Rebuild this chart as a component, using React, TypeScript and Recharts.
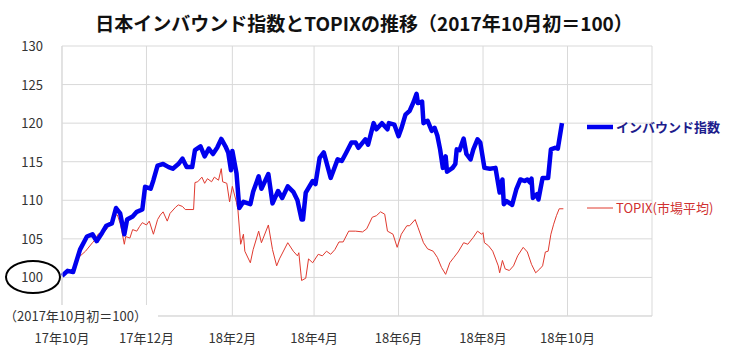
import React from "react";
import { LineChart, Line, XAxis, YAxis, CartesianGrid } from "recharts";

// days counted from 2017-10-01
const xTicks = [0, 61, 123, 182, 243, 304, 365, 426];
const xTickLabels = ["17年10月", "17年12月", "18年2月", "18年4月", "18年6月", "18年8月", "18年10月", ""];
const yTicks = [95, 100, 105, 110, 115, 120, 125, 130];

const inboundDays = [
  0, 4, 8, 13, 18, 22, 25, 29, 32, 36, 39, 42, 45, 47, 51, 54, 58, 60, 64, 66, 69, 73, 77, 80, 84, 87,
  90, 94, 96, 100, 103, 106, 109, 112, 115, 118, 120, 122, 123, 126, 128, 131, 136, 138, 142, 144, 149,
  152, 156, 159, 163, 167, 170, 173, 174, 176, 181, 183, 186, 189, 194, 199, 202, 205, 209, 212, 214,
  219, 221, 225, 227, 231, 235, 236, 240, 243, 245, 248, 251, 254, 256, 257, 260, 261, 264, 267, 269,
  271, 273, 275, 277, 278, 282, 284, 285, 287, 290, 292, 295, 297, 300, 302, 305, 309, 313, 316, 318,
  319, 321, 325, 328, 331, 334, 336, 338, 339, 340, 343, 344, 347, 351, 353, 356, 358, 361,
];
const inboundValues = [
  100.2, 100.85, 100.7, 103.6, 105.3, 105.6, 104.7, 105.8, 106.7, 107, 109, 108.3, 105.6, 107.5, 107.9,
  108.5, 108.8, 111.75, 111.5, 112.6, 114.5, 114.7, 114.3, 114.1, 114.7, 115.4, 114.3, 114.3, 116.5, 117,
  115.7, 116.7, 116, 116.8, 117.95, 117, 116.2, 113.9, 116.4, 113.5, 109, 109.8, 109.5, 111.1, 113.1,
  111.5, 113.4, 109.6, 111.2, 110.3, 111.8, 111.1, 110, 107.5, 107.5, 111, 112.5, 112.1, 115.5, 116.2,
  112.9, 115.3, 115.1, 116.1, 117.5, 117.5, 116.8, 117.9, 117.2, 120, 119.2, 120, 119.2, 120, 119.8,
  118.3, 119.3, 121.1, 121.6, 122.8, 123.8, 122.6, 122.8, 120, 120.3, 119, 119.4, 118.4, 116.6, 114.2,
  115.7, 113.7, 114.2, 114.7, 116.6, 116.5, 118, 116, 115.3, 116.6, 117.9, 117.5, 114.2, 114.1, 114.2,
  111, 112.7, 109.5, 109.9, 109.4, 111.4, 112.7, 112.5, 112.7, 112.3, 112.8, 110.3, 110.8, 110.1, 112.9,
  112.9, 116.6, 116.8, 116.7, 120,
];

const topixDays = [
  0, 4, 8, 12, 17, 22, 24, 26, 29, 32, 36, 37, 40, 42, 43, 45, 46, 49, 51, 54, 56, 58, 61, 63, 66, 69,
  71, 73, 76, 78, 82, 84, 87, 89, 95, 96, 98, 101, 103, 105, 108, 110, 113, 115, 116, 119, 121, 123, 126,
  127, 129, 131, 132, 136, 138, 142, 144, 149, 152, 155, 157, 163, 167, 170, 171, 173, 176, 178, 181,
  185, 188, 191, 194, 197, 200, 203, 207, 212, 217, 220, 224, 227, 230, 233, 235, 239, 242, 245, 249,
  251, 255, 257, 261, 264, 268, 271, 274, 277, 280, 283, 286, 290, 293, 297, 300, 303, 304, 305, 308,
  311, 315, 316, 318, 320, 323, 326, 329, 333, 336, 339, 342, 345, 347, 349, 351, 353, 355, 357, 359, 362,
];
const topixValues = [
  100.2, 100.85, 100.85, 102.6, 103.4, 104.5, 104.9, 105.6, 105.8, 106.2, 107.3, 108.1, 108.1, 107, 106.2,
  104.3, 105.3, 105.1, 106.2, 106, 106.6, 107.1, 106.8, 107.3, 105.6, 107.5, 108.1, 108.5, 107.3, 108.3,
  109.1, 109.4, 109.2, 108.8, 108.8, 112.3, 112.4, 113, 112.2, 112.8, 112.4, 113, 112.6, 114.1, 112.4,
  112.2, 109.8, 111.8, 109.7, 108.8, 104.3, 105.6, 103.4, 101.9, 103.6, 106, 104.5, 106.8, 103.6, 101.5,
  102.4, 104.5, 103.4, 102.8, 103.2, 99.6, 99.9, 102.4, 101.9, 103, 102.8, 103.4, 103, 103.6, 104.6,
  104.6, 106, 106, 105.9, 106.3, 107.8, 108, 108.5, 108.2, 106, 105.6, 103.9, 105.6, 106.7, 106.7, 107.5,
  106.5, 104.5, 103.7, 103.4, 102.6, 101.3, 100.4, 101.9, 102.6, 103.3, 104.5, 104.3, 105.2, 106, 105.6,
  105.8, 104.5, 104.1, 103.4, 101.5, 100.6, 102.2, 101.1, 100.9, 101.5, 102.8, 103.9, 103.3, 101.7, 100.6,
  101.1, 101.5, 103.3, 103.4, 105.6, 106.9, 108, 108.9, 108.9,
];

const inboundData = inboundDays.map((d, i) => ({ d, v: inboundValues[i] }));
const topixData = topixDays.map((d, i) => ({ d, v: topixValues[i] }));

const FONT = "'Noto Sans CJK JP', 'Noto Sans', sans-serif";
const GRID = "#d9d9d9";

function XTick({ x, y, payload }: any) {
  const idx = xTicks.indexOf(payload.value);
  return (
    <text x={x} y={y + 19} textAnchor="middle" fontSize={13} fill="#333" fontFamily={FONT}>
      {xTickLabels[idx] ?? ""}
    </text>
  );
}

function YTick({ y, payload }: any) {
  if (payload.value === 95) return null;
  return (
    <text x={43} y={y + 5} textAnchor="end" fontSize={13} fill="#333" fontFamily={FONT}>
      {payload.value}
    </text>
  );
}

export default function App() {
  return (
    <div style={{ position: "absolute", left: 0, top: 0, width: 738, height: 353, background: "#fff", fontFamily: FONT }}>
      <div
        style={{
          position: "absolute",
          top: 9,
          left: 0,
          width: 728,
          textAlign: "center",
          fontSize: 19,
          fontWeight: 700,
          color: "#111",
        }}
      >
        日本インバウンド指数とTOPIXの推移（2017年10月初＝100）
      </div>
      <LineChart width={738} height={353} margin={{ top: 46, right: 86, bottom: 0, left: 0 }}>
        <CartesianGrid stroke={GRID} />
        <XAxis
          type="number"
          dataKey="d"
          domain={[0, 426]}
          ticks={xTicks}
          tick={<XTick />}
          tickLine={false}
          axisLine={{ stroke: GRID }}
          height={37}
          interval={0}
        />
        <YAxis
          type="number"
          domain={[95, 130]}
          ticks={yTicks}
          tick={<YTick />}
          tickLine={false}
          axisLine={{ stroke: GRID }}
          width={62}
          interval={0}
        />
        <Line
          data={topixData}
          dataKey="v"
          stroke="#e03a2f"
          strokeWidth={1}
          dot={false}
          type="linear"
          isAnimationActive={false}
        />
        <Line
          data={inboundData}
          dataKey="v"
          stroke="#0000ee"
          strokeWidth={4.5}
          strokeLinejoin="round"
          dot={false}
          type="linear"
          isAnimationActive={false}
        />
      </LineChart>
      <div
        style={{
          position: "absolute",
          left: 0,
          top: 305,
          width: 158,
          height: 22,
          background: "#fff",
          fontSize: 13,
          color: "#333",
          lineHeight: "22px",
          paddingLeft: 4,
          boxSizing: "border-box",
        }}
      >
        （2017年10月初＝100）
      </div>
      <svg style={{ position: "absolute", left: 0, top: 0 }} width={738} height={353}>
        <ellipse cx={33} cy={277} rx={27} ry={16} fill="none" stroke="#000" strokeWidth={2} />
        <line x1={587} y1={127} x2={613} y2={127} stroke="#0000ee" strokeWidth={4.5} />
        <text x={616} y={132} fontSize={13} fontWeight={700} fill="#1c1c8c" fontFamily={FONT}>
          インバウンド指数
        </text>
        <line x1={587} y1={208} x2={613} y2={208} stroke="#e03a2f" strokeWidth={1} />
        <text x={616} y={213} fontSize={13} fill="#d03030" fontFamily={FONT}>
          TOPIX(市場平均)
        </text>
      </svg>
    </div>
  );
}
